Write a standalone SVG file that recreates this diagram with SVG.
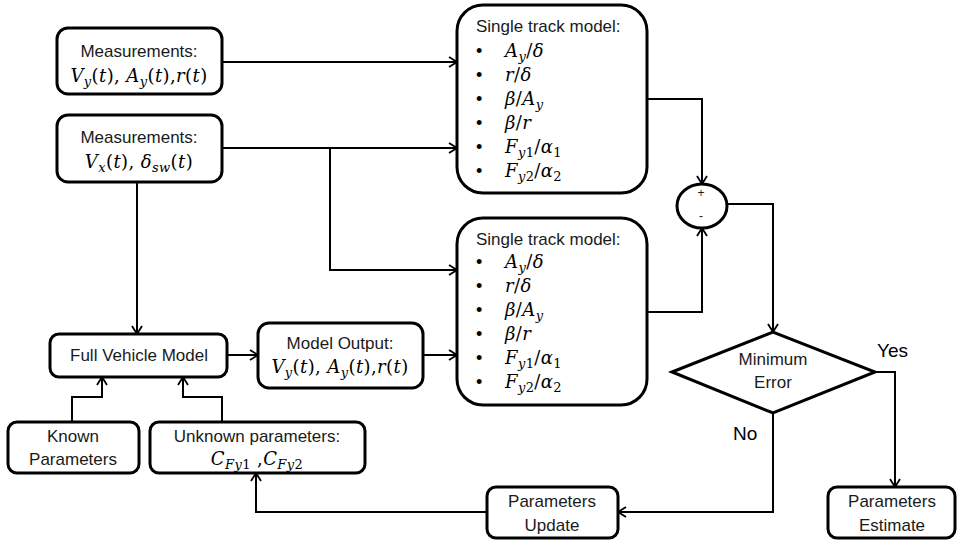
<svg xmlns="http://www.w3.org/2000/svg" width="957" height="543" viewBox="0 0 957 543">
<defs>
<marker id="arr" viewBox="0 0 12 12" refX="11" refY="6" markerWidth="12" markerHeight="12" markerUnits="userSpaceOnUse" orient="auto">
<path d="M3,1 L11,6 L3,11" fill="none" stroke="#000" stroke-width="1.8"/>
</marker>
</defs>
<style>
.box{fill:#fff;stroke:#000;stroke-width:3}
.t{font-family:"Liberation Sans","Open Sans",sans-serif;font-size:17px;fill:#1a1a1a;text-anchor:middle}
.tl{font-family:"Liberation Sans","Open Sans",sans-serif;font-size:17px;fill:#1a1a1a}
.m{font-family:"DejaVu Serif","Liberation Serif",serif;font-size:18px;fill:#000;letter-spacing:0.4px}
.mc{text-anchor:middle}
.i{font-style:italic}
.s{font-size:13px;font-style:italic}
.d{font-size:13px}
.b{font-family:"Liberation Sans",sans-serif;font-size:18px}
.c{fill:none;stroke:#000;stroke-width:2;marker-end:url(#arr)}
.big{font-family:"Liberation Sans","Open Sans",sans-serif;font-size:19px;fill:#000}
</style>
<g id="connectors">
<path class="c" d="M222,62 H457"/>
<path class="c" d="M222,148 H457"/>
<path class="c" d="M330,148 V270 H457"/>
<path class="c" d="M137,182 V334"/>
<path class="c" d="M227,355 H258"/>
<path class="c" d="M423,355 H457"/>
<path class="c" d="M72,422 V397 H102 V377"/>
<path class="c" d="M222,422 V397 H183 V377"/>
<path class="c" d="M647,99 H702 V184"/>
<path class="c" d="M647,312 H702 V228"/>
<path class="c" d="M727,204 H773 V332"/>
<path class="c" d="M875,372 H895 V487"/>
<path class="c" d="M773,413 V512 H618"/>
<path class="c" d="M487,512 H256 V473"/>
</g>
<g id="meas1">
<rect class="box" x="57" y="28" width="165" height="66" rx="11"/>
<text class="t" x="139" y="57">Measurements:</text>
<text class="m mc" x="139" y="82"><tspan class="i">V</tspan><tspan class="s" dy="4">y</tspan><tspan dy="-4">(</tspan><tspan class="i">t</tspan>), <tspan class="i">A</tspan><tspan class="s" dy="4">y</tspan><tspan dy="-4">(</tspan><tspan class="i">t</tspan>),<tspan class="i">r</tspan>(<tspan class="i">t</tspan>)</text>
</g>
<g id="meas2">
<rect class="box" x="57" y="115" width="165" height="67" rx="11"/>
<text class="t" x="139" y="143">Measurements:</text>
<text class="m mc" x="139" y="168"><tspan class="i">V</tspan><tspan class="s" dy="4">x</tspan><tspan dy="-4">(</tspan><tspan class="i">t</tspan>),  <tspan class="i">δ</tspan><tspan class="s" dy="4">sw</tspan><tspan dy="-4">(</tspan><tspan class="i">t</tspan>)</text>
</g>
<g id="stm1">
<rect class="box" x="457" y="5" width="190" height="188" rx="26"/>
<text class="tl" x="476" y="32">Single track model:</text>
<g class="b">
<text x="476" y="57">•</text><text x="476" y="81">•</text><text x="476" y="105">•</text><text x="476" y="129">•</text><text x="476" y="153">•</text><text x="476" y="177">•</text>
</g>
<text class="m" x="505" y="57"><tspan class="i">A</tspan><tspan class="s" dy="4">y</tspan><tspan dy="-4">/</tspan><tspan class="i">δ</tspan></text>
<text class="m" x="505" y="81"><tspan class="i">r</tspan>/<tspan class="i">δ</tspan></text>
<text class="m" x="505" y="105"><tspan class="i">β</tspan>/<tspan class="i">A</tspan><tspan class="s" dy="4">y</tspan></text>
<text class="m" x="505" y="129"><tspan class="i">β</tspan>/<tspan class="i">r</tspan></text>
<text class="m" x="505" y="153"><tspan class="i">F</tspan><tspan class="s" dy="4">y</tspan><tspan class="d">1</tspan><tspan dy="-4">/</tspan><tspan class="i">α</tspan><tspan class="d" dy="4">1</tspan></text>
<text class="m" x="505" y="177"><tspan class="i">F</tspan><tspan class="s" dy="4">y</tspan><tspan class="d">2</tspan><tspan dy="-4">/</tspan><tspan class="i">α</tspan><tspan class="d" dy="4">2</tspan></text>
</g>
<g id="stm2">
<rect class="box" x="457" y="218" width="190" height="187" rx="26"/>
<text class="tl" x="476" y="245">Single track model:</text>
<g class="b">
<text x="476" y="268">•</text><text x="476" y="292">•</text><text x="476" y="316">•</text><text x="476" y="340">•</text><text x="476" y="364">•</text><text x="476" y="388">•</text>
</g>
<text class="m" x="505" y="268"><tspan class="i">A</tspan><tspan class="s" dy="4">y</tspan><tspan dy="-4">/</tspan><tspan class="i">δ</tspan></text>
<text class="m" x="505" y="292"><tspan class="i">r</tspan>/<tspan class="i">δ</tspan></text>
<text class="m" x="505" y="316"><tspan class="i">β</tspan>/<tspan class="i">A</tspan><tspan class="s" dy="4">y</tspan></text>
<text class="m" x="505" y="340"><tspan class="i">β</tspan>/<tspan class="i">r</tspan></text>
<text class="m" x="505" y="364"><tspan class="i">F</tspan><tspan class="s" dy="4">y</tspan><tspan class="d">1</tspan><tspan dy="-4">/</tspan><tspan class="i">α</tspan><tspan class="d" dy="4">1</tspan></text>
<text class="m" x="505" y="388"><tspan class="i">F</tspan><tspan class="s" dy="4">y</tspan><tspan class="d">2</tspan><tspan dy="-4">/</tspan><tspan class="i">α</tspan><tspan class="d" dy="4">2</tspan></text>
</g>
<g id="sum">
<ellipse cx="702" cy="206" rx="25" ry="22" fill="#fff" stroke="#000" stroke-width="3"/>
<text class="t" x="701" y="197" style="font-size:12px">+</text>
<text class="t" x="701" y="220" style="font-size:12px">-</text>
</g>
<g id="fvm">
<rect class="box" x="50" y="334" width="177" height="43" rx="9"/>
<text class="t" x="139" y="361">Full Vehicle Model</text>
</g>
<g id="mout">
<rect class="box" x="258" y="323" width="165" height="65" rx="11"/>
<text class="t" x="340" y="349">Model Output:</text>
<text class="m mc" x="340" y="373"><tspan class="i">V</tspan><tspan class="s" dy="4">y</tspan><tspan dy="-4">(</tspan><tspan class="i">t</tspan>), <tspan class="i">A</tspan><tspan class="s" dy="4">y</tspan><tspan dy="-4">(</tspan><tspan class="i">t</tspan>),<tspan class="i">r</tspan>(<tspan class="i">t</tspan>)</text>
</g>
<g id="known">
<rect class="box" x="8" y="422" width="131" height="51" rx="9"/>
<text class="t" x="73" y="442">Known</text>
<text class="t" x="73" y="465">Parameters</text>
</g>
<g id="unknown">
<rect class="box" x="150" y="422" width="215" height="51" rx="9"/>
<text class="t" x="257" y="442">Unknown parameters:</text>
<text class="m mc" x="257" y="465"><tspan class="i">C</tspan><tspan class="s" dy="4">Fy</tspan><tspan class="d">1</tspan><tspan dy="-4"> ,</tspan><tspan class="i">C</tspan><tspan class="s" dy="4">Fy</tspan><tspan class="d">2</tspan></text>
</g>
<g id="decision">
<polygon points="672,372 773,332 875,372 773,413" fill="#fff" stroke="#000" stroke-width="3"/>
<text class="t" x="773" y="365">Minimum</text>
<text class="t" x="773" y="388">Error</text>
</g>
<text class="big" x="877" y="357">Yes</text>
<text class="big" x="733" y="440">No</text>
<g id="update">
<rect class="box" x="487" y="487" width="131" height="51" rx="9"/>
<text class="t" x="552" y="507">Parameters</text>
<text class="t" x="552" y="531">Update</text>
</g>
<g id="estimate">
<rect class="box" x="828" y="487" width="127" height="51" rx="9"/>
<text class="t" x="892" y="507">Parameters</text>
<text class="t" x="892" y="531">Estimate</text>
</g>
</svg>
